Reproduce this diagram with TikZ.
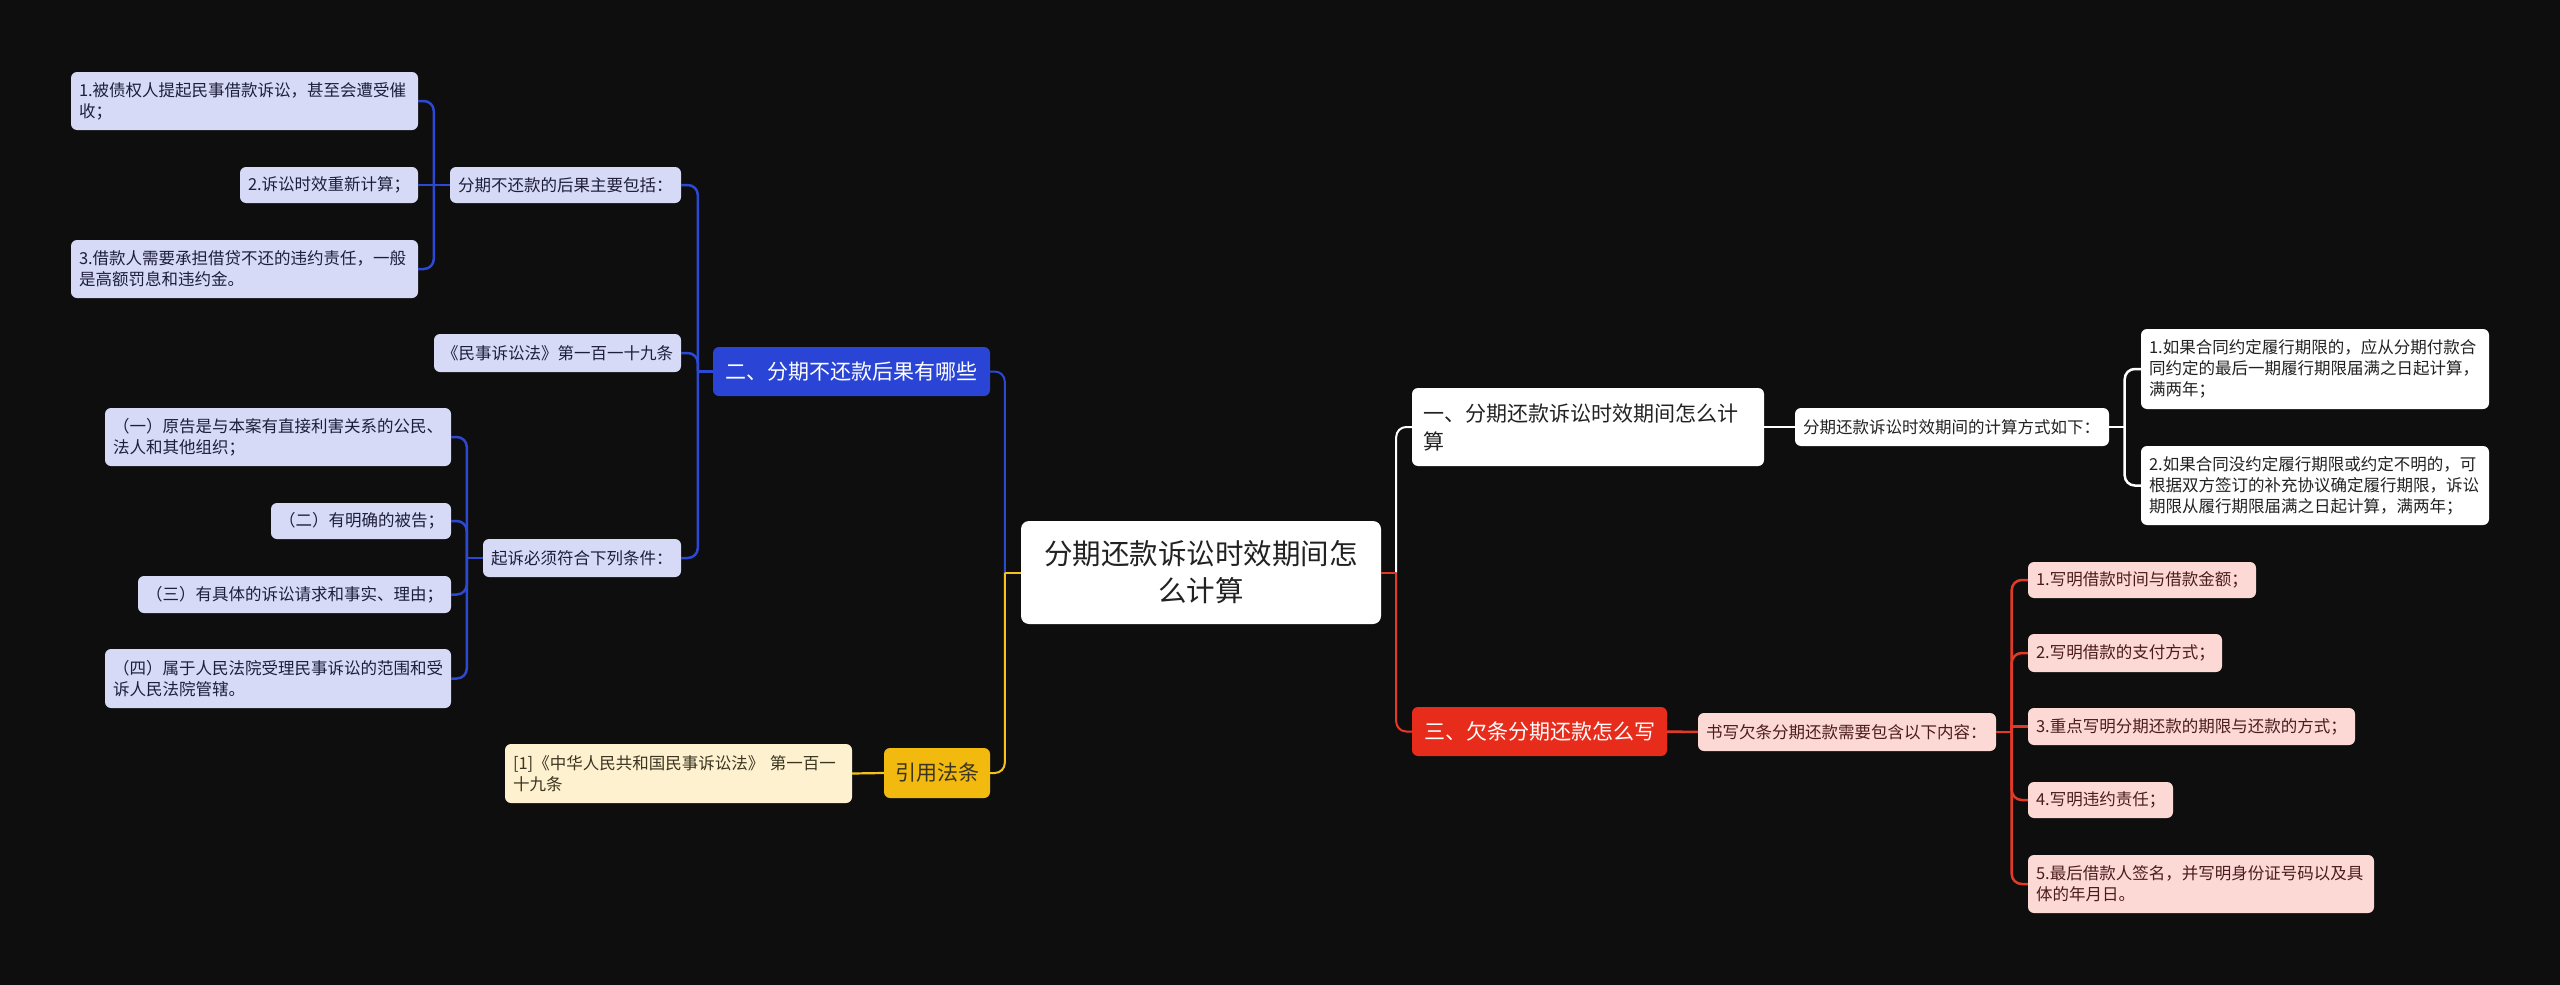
\documentclass[tikz,border=0pt]{standalone}
\usepackage{fontspec}
\setmainfont{Noto Sans CJK SC}
\usetikzlibrary{calc}
\definecolor{bg}{HTML}{0E0E0E}
\definecolor{blueN}{HTML}{2A45D6}
\definecolor{blueL}{HTML}{2D48D2}
\definecolor{lav}{HTML}{D6DAF7}
\definecolor{lavtxt}{HTML}{1E1E3A}
\definecolor{yelN}{HTML}{F2B90E}
\definecolor{yelL}{HTML}{F4C21A}
\definecolor{cream}{HTML}{FDF1D0}
\definecolor{creamtxt}{HTML}{3A3420}
\definecolor{redN}{HTML}{E82C1C}
\definecolor{redL}{HTML}{E33A27}
\definecolor{pink}{HTML}{FDD9D6}
\definecolor{pinktxt}{HTML}{4A1C1C}
\definecolor{dtxt}{HTML}{222222}
\begin{document}
\begin{tikzpicture}[x=1pt,y=-1pt,
  base/.style={rounded corners=6pt, inner xsep=8pt, inner ysep=0pt, align=left, anchor=center},
  smallfont/.style={font=\fontsize{16.5}{21}\selectfont},
  leafB/.style={base, smallfont, fill=lav, text=lavtxt},
  leafY/.style={base, smallfont, fill=cream, text=creamtxt},
  leafR/.style={base, smallfont, fill=pink, text=pinktxt},
  leafW/.style={base, smallfont, fill=white, text=dtxt},
  branch/.style={base, align=center, font=\fontsize{21}{28}\selectfont},
  lnB/.style={draw=blueL, line width=2.5pt},
  lnY/.style={draw=yelL, line width=2.2pt},
  lnR/.style={draw=redL, line width=2.5pt},
  lnW/.style={draw=white, line width=2.5pt},
  rc/.style={rounded corners=10pt},
]
\useasboundingbox (0,0) rectangle (2560,985);
\fill[bg] (0,0) rectangle (2560,985);

% root
\node[base, align=center, fill=white, text=dtxt, font=\fontsize{28.5}{37}\selectfont,
  minimum width=360, minimum height=103, rounded corners=8pt] (Root) at (1201,572.5)
  {分期还款诉讼时效期间怎\\么计算};

% branch nodes
\node[branch, fill=blueN, text=white, minimum width=277, minimum height=49] (B) at (851.5,371.5) {二、分期不还款后果有哪些};
\node[branch, fill=yelN, text=creamtxt, minimum width=106, minimum height=50] (Y) at (937,773) {引用法条};
\node[branch, fill=redN, text=white, minimum width=255, minimum height=49] (R) at (1539.5,731.5) {三、欠条分期还款怎么写};
\node[branch, align=left, fill=white, text=dtxt, inner xsep=11pt, text width=330, minimum width=352, minimum height=78] (W) at (1588,427) {一、分期还款诉讼时效期间怎么计\\算};

% blue subtree
\node[leafB, text width=215, minimum width=231, minimum height=36] (B1) at (565.5,185) {分期不还款的后果主要包括：};
\node[leafB, text width=331, minimum width=347, minimum height=58] (B11) at (244.5,101) {1.被债权人提起民事借款诉讼，甚至会遭受催\\收；};
\node[leafB, text width=162, minimum width=178, minimum height=36] (B12) at (329,185) {2.诉讼时效重新计算；};
\node[leafB, text width=331, minimum width=347, minimum height=58] (B13) at (244.5,269) {3.借款人需要承担借贷不还的违约责任，一般\\是高额罚息和违约金。};
\node[leafB, text width=231, minimum width=247, minimum height=38] (B2) at (557.5,353) {《民事诉讼法》第一百一十九条};
\node[leafB, text width=182, minimum width=198, minimum height=38] (B3) at (582,558) {起诉必须符合下列条件：};
\node[leafB, text width=330, minimum width=346, minimum height=58] (B31) at (278,437) {（一）原告是与本案有直接利害关系的公民、\\法人和其他组织；};
\node[leafB, text width=164, minimum width=180, minimum height=36] (B32) at (361,521) {（二）有明确的被告；};
\node[leafB, text width=297, minimum width=313, minimum height=37] (B33) at (294.5,594.5) {（三）有具体的诉讼请求和事实、理由；};
\node[leafB, text width=330, minimum width=346, minimum height=59] (B34) at (278,678.5) {（四）属于人民法院受理民事诉讼的范围和受\\诉人民法院管辖。};

% yellow subtree
\node[leafY, text width=331, minimum width=347, minimum height=59] (Y1) at (678.5,773.5) {[1]《中华人民共和国民事诉讼法》 第一百一\\十九条};

% white subtree
\node[leafW, text width=298, minimum width=314, minimum height=38] (W1) at (1952,427) {分期还款诉讼时效期间的计算方式如下：};
\node[leafW, text width=332, minimum width=348, minimum height=80] (W11) at (2315,369) {1.如果合同约定履行期限的，应从分期付款合\\同约定的最后一期履行期限届满之日起计算，\\满两年；};
\node[leafW, text width=332, minimum width=348, minimum height=79] (W12) at (2315,485.5) {2.如果合同没约定履行期限或约定不明的，可\\根据双方签订的补充协议确定履行期限，诉讼\\期限从履行期限届满之日起计算，满两年；};

% red subtree
\node[leafR, text width=282, minimum width=298, minimum height=38] (R1) at (1847,732) {书写欠条分期还款需要包含以下内容：};
\node[leafR, text width=212, minimum width=228, minimum height=36] (R11) at (2142,580) {1.写明借款时间与借款金额；};
\node[leafR, text width=178, minimum width=194, minimum height=38] (R12) at (2125,653) {2.写明借款的支付方式；};
\node[leafR, text width=311, minimum width=327, minimum height=37] (R13) at (2191.5,726.5) {3.重点写明分期还款的期限与还款的方式；};
\node[leafR, text width=129, minimum width=145, minimum height=36] (R14) at (2100.5,800) {4.写明违约责任；};
\node[leafR, text width=330, minimum width=346, minimum height=58] (R15) at (2201,884) {5.最后借款人签名，并写明身份证号码以及具\\体的年月日。};

% spine coordinates
\coordinate (sL) at ($(Root.west)+(-16,0)$);
\coordinate (sR) at ($(Root.east)+(15,0)$);
\coordinate (sB) at ($(B.west)+(-15,0)$);
\coordinate (sB1) at ($(B1.west)+(-16,0)$);
\coordinate (sB3) at ($(B3.west)+(-16,0)$);
\coordinate (sW1) at ($(W1.east)+(15.5,0)$);
\coordinate (sR1) at ($(R1.east)+(15.5,0)$);

% root connectors
\draw[lnB, line width=2pt] (Root.west) -- (sL);
\draw[lnB, line width=2pt, rc] (sL) |- (B.east);
\draw[lnY, line width=2pt] (Root.west) -- (sL);
\draw[lnY, line width=2pt, rc] (sL) |- (Y.east);
\draw[lnW, line width=2pt] (Root.east) -- (sR);
\draw[lnW, line width=2pt, rc] (sR) |- (W.west);
\draw[lnR, line width=2pt] (Root.east) -- (sR);
\draw[lnR, line width=2pt, rc] (sR) |- (R.west);

% blue connectors
\draw[lnB] (B.west) -- (sB);
\draw[lnB, rc] (sB) |- (B1.east);
\draw[lnB, rc] (sB) |- (B2.east);
\draw[lnB, rc] (sB) |- (B3.east);
\draw[lnB] (B1.west) -- (sB1) -- (B12.east);
\draw[lnB, rc] (sB1) |- (B11.east);
\draw[lnB, rc] (sB1) |- (B13.east);
\draw[lnB] (B3.west) -- (sB3);
\draw[lnB, rc] (sB3) |- (B31.east);
\draw[lnB, rc] (sB3) |- (B32.east);
\draw[lnB, rc] (sB3) |- (B33.east);
\draw[lnB, rc] (sB3) |- (B34.east);

% yellow connector
\draw[lnY] (Y.west) -- (Y1.east);

% white connectors
\draw[lnW] (W.east) -- (W1.west);
\draw[lnW] (W1.east) -- (sW1);
\draw[lnW, rc] (sW1) |- (W11.west);
\draw[lnW, rc] (sW1) |- (W12.west);

% red connectors
\draw[lnR] (R.east) -- (R1.west);
\draw[lnR] (R1.east) -- (sR1);
\draw[lnR, rc] (sR1) |- (R11.west);
\draw[lnR, rc] (sR1) |- (R12.west);
\draw[lnR] (sR1) |- (R13.west);
\draw[lnR, rc] (sR1) |- (R14.west);
\draw[lnR, rc] (sR1) |- (R15.west);
\end{tikzpicture}
\end{document}
